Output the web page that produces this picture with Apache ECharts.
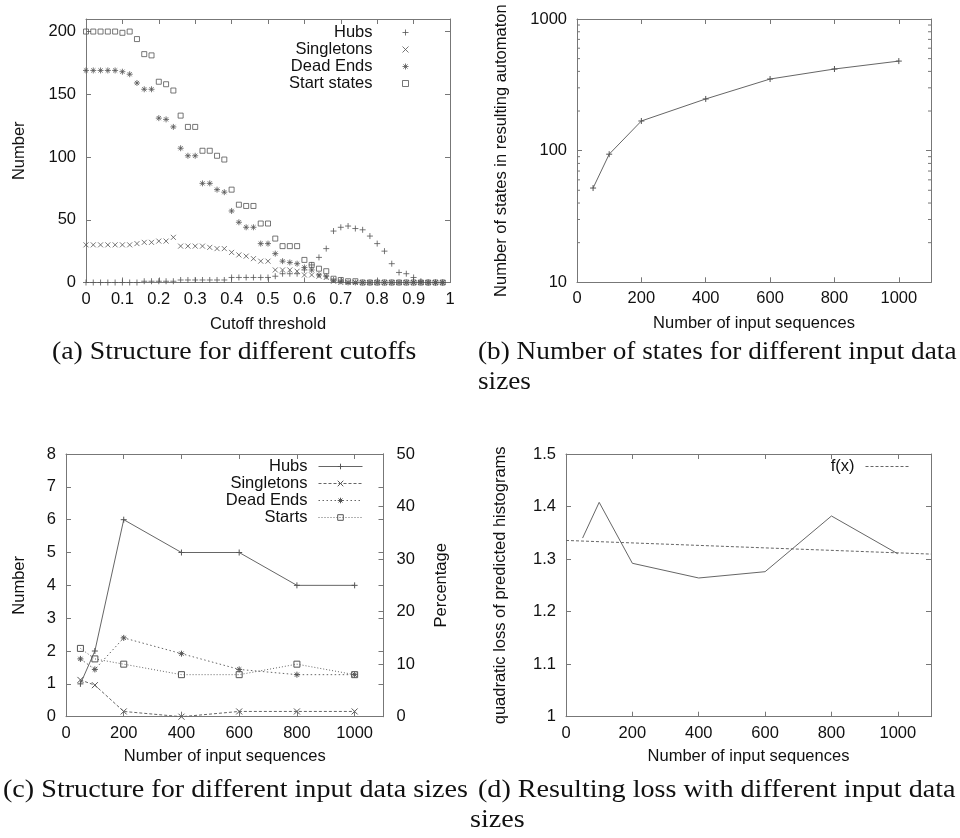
<!DOCTYPE html>
<html>
<head>
<meta charset="utf-8">
<script src="https://cdn.jsdelivr.net/npm/echarts@6/dist/echarts.min.js"></script>
<style>
html, body { margin: 0; padding: 0; background: #fff; }
#c { width: 960px; height: 838px; }
</style>
</head>
<body>
<div id="c"></div>
<script>
// (a) automaton structure against the cutoff threshold
const cutoff = [0, 0.02, 0.04, 0.06, 0.08, 0.1, 0.12, 0.14, 0.16, 0.18,
  0.2, 0.22, 0.24, 0.26, 0.28, 0.3, 0.32, 0.34, 0.36, 0.38,
  0.4, 0.42, 0.44, 0.46, 0.48, 0.5, 0.52, 0.54, 0.56, 0.58,
  0.6, 0.62, 0.64, 0.66, 0.68, 0.7, 0.72, 0.74, 0.76, 0.78,
  0.8, 0.82, 0.84, 0.86, 0.88, 0.9, 0.92, 0.94, 0.96, 0.98];
const hubsA = [0, 0, 0, 0, 0, 0, 0, 0, 1, 1, 1, 1, 1, 2, 2, 2, 2, 2, 2, 2,
  4, 4, 4, 4, 4, 4, 5, 7, 7, 7, 10, 14, 20, 27, 41, 44, 45, 43, 42, 37,
  31, 25, 15, 8, 7, 4, 1, 0, 0, 0];
const singletonsA = [30, 30, 30, 30, 30, 30, 30, 31, 32, 32, 33, 33, 36, 29, 29, 29, 29, 28, 27, 27,
  24, 22, 21, 19, 17, 17, 10, 10, 10, 9, 6, 6, 5, 4, 1, 0, 0, 0, 0, 0,
  0, 0, 0, 0, 0, 0, 0, 0, 0, 0];
const deadEndsA = [169, 169, 169, 169, 169, 168, 166, 159, 154, 154, 131, 130, 124, 107, 101, 101, 79, 79, 74, 72,
  57, 48, 44, 44, 31, 31, 23, 17, 16, 15, 12, 10, 6, 5, 2, 1, 0, 0, 0, 0,
  0, 0, 0, 0, 0, 0, 0, 0, 0, 0];
const startStatesA = [200, 200, 200, 200, 200, 199, 200, 194, 182, 181, 160, 158, 153, 133, 124, 124, 105, 105, 101, 98,
  74, 62, 61, 61, 47, 47, 35, 29, 29, 29, 18, 14, 11, 9, 3, 2, 1, 1, 0, 0,
  0, 0, 0, 0, 0, 0, 0, 0, 0, 0];

// (b) automaton size against the number of input sequences
const inputSizes = [50, 100, 200, 400, 600, 800, 1000];
const statesB = [52, 94, 168, 247, 350, 417, 479];
const logMinorTicks = [20, 30, 40, 50, 60, 70, 80, 90, 200, 300, 400, 500, 600, 700, 800, 900];

// (c) structure against the number of input sequences
const hubsC = [1, 2, 6, 5, 5, 4, 4];                 // count, left axis
const singletonsPctC = [7, 6, 1, 0, 1, 1, 1];        // percent, right axis
const deadEndsPctC = [11, 9, 15, 12, 9, 8, 8];
const startsPctC = [13, 11, 10, 8, 8, 10, 8];

// (d) loss against the number of input sequences, with a linear fit
const lossD = [1.340, 1.408, 1.292, 1.264, 1.276, 1.382, 1.310];
const fitX = [0, 1100];
const fitY = [1.3355, 1.3095];

const SANS = 'Liberation Sans';
const SERIF = 'Liberation Serif';
const INK = '#111';
const FRAME = '#777';
const MARK = '#555';
const LINE = '#666';
const FS = 16.5;

const PLUS = 'path://M5,0L5,10M0,5L10,5';
const CROSS = 'path://M0,0L10,10M10,0L0,10';
const STAR = 'path://M5,0L5,10M0,5L10,5M1.5,1.5L8.5,8.5M8.5,1.5L1.5,8.5';
const BOX = 'path://M0,0L10,0L10,10L0,10Z';

const textStyle = { color: INK, fontFamily: SANS, fontSize: FS };

function frameAxis(extra) {
  return Object.assign({
    splitLine: { show: false },
    axisLine: { show: true, onZero: false, lineStyle: { color: FRAME, width: 1 } },
    axisTick: { show: true, inside: true, length: 5, lineStyle: { color: FRAME, width: 1 } },
    axisLabel: { show: false },
    nameTextStyle: textStyle
  }, extra);
}

function labelled(margin, formatter) {
  const l = { show: true, margin: margin, color: INK, fontFamily: SANS, fontSize: FS };
  if (formatter) l.formatter = formatter;
  return l;
}

const upTo1000 = v => (v > 1000 ? '' : String(v));
const plainLog = v => String(Math.round(v));

const grid = [
  { left: 86, top: 19, width: 364, height: 263.5 },
  { left: 577, top: 19, width: 354, height: 263.3 },
  { left: 66, top: 454, width: 317.5, height: 262.7 },
  { left: 566, top: 454, width: 365, height: 262.7 }
];

const xAxis = [
  frameAxis({ type: 'value', gridIndex: 0, position: 'bottom', min: 0, max: 1, interval: 0.1,
    axisLabel: labelled(8), name: 'Cutoff threshold', nameLocation: 'middle', nameGap: 33 }),
  frameAxis({ type: 'value', gridIndex: 0, position: 'top', min: 0, max: 1, interval: 0.1 }),
  frameAxis({ type: 'value', gridIndex: 1, position: 'bottom', min: 0, max: 1100, interval: 200,
    axisLabel: labelled(8, upTo1000), name: 'Number of input sequences', nameLocation: 'middle', nameGap: 33 }),
  frameAxis({ type: 'value', gridIndex: 1, position: 'top', min: 0, max: 1100, interval: 200 }),
  frameAxis({ type: 'value', gridIndex: 2, position: 'bottom', min: 0, max: 1100, interval: 200,
    axisLabel: labelled(8, upTo1000), name: 'Number of input sequences', nameLocation: 'middle', nameGap: 31 }),
  frameAxis({ type: 'value', gridIndex: 2, position: 'top', min: 0, max: 1100, interval: 200 }),
  frameAxis({ type: 'value', gridIndex: 3, position: 'bottom', min: 0, max: 1100, interval: 200,
    axisLabel: labelled(8, upTo1000), name: 'Number of input sequences', nameLocation: 'middle', nameGap: 31 }),
  frameAxis({ type: 'value', gridIndex: 3, position: 'top', min: 0, max: 1100, interval: 200 })
];

const yAxis = [
  frameAxis({ type: 'value', gridIndex: 0, position: 'left', min: 0, max: 210, interval: 50,
    axisLabel: labelled(10, v => (v % 50 === 0 ? String(v) : '')),
    name: 'Number', nameLocation: 'middle', nameGap: 58 }),
  frameAxis({ type: 'value', gridIndex: 0, position: 'right', min: 0, max: 210, interval: 50 }),
  frameAxis({ type: 'log', logBase: 10, gridIndex: 1, position: 'left', min: 10, max: 1000,
    axisLabel: labelled(10, plainLog), name: 'Number of states in resulting automaton', nameLocation: 'middle', nameGap: 67 }),
  frameAxis({ type: 'log', logBase: 10, gridIndex: 1, position: 'right', min: 10, max: 1000 }),
  frameAxis({ type: 'value', gridIndex: 2, position: 'left', min: 0, max: 8, interval: 1,
    axisLabel: labelled(10), name: 'Number', nameLocation: 'middle', nameGap: 38 }),
  frameAxis({ type: 'value', gridIndex: 2, position: 'right', min: 0, max: 50, interval: 10,
    axisLabel: labelled(13), name: 'Percentage', nameLocation: 'middle', nameGap: 49 }),
  frameAxis({ type: 'value', gridIndex: 2, position: 'right', min: 0, max: 8, interval: 1 }),
  frameAxis({ type: 'value', gridIndex: 3, position: 'left', min: 1, max: 1.5, interval: 0.1,
    axisLabel: labelled(10), name: 'quadratic loss of predicted histograms', nameLocation: 'middle', nameGap: 57 }),
  frameAxis({ type: 'value', gridIndex: 3, position: 'right', min: 1, max: 1.5, interval: 0.1 })
];

const hollow = { color: 'none', borderColor: MARK, borderWidth: 1 };
const pair = (xs, ys) => xs.map((x, i) => [x, ys[i]]);

function scatterA(name, symbol, size, values) {
  return { type: 'scatter', name: name, xAxisIndex: 0, yAxisIndex: 0, symbol: symbol, symbolSize: size,
    itemStyle: hollow, data: pair(cutoff, values), animation: false, silent: true };
}

function lineC(name, symbol, yIdx, dash, values) {
  return { type: 'line', name: name, xAxisIndex: 4, yAxisIndex: yIdx, symbol: symbol, symbolSize: 6,
    showAllSymbol: true, itemStyle: hollow,
    lineStyle: { color: LINE, width: 1, type: dash },
    data: pair(inputSizes, values), animation: false, silent: true };
}

const series = [
  scatterA('Hubs', PLUS, 6, hubsA),
  scatterA('Singletons', CROSS, 5, singletonsA),
  scatterA('Dead Ends', STAR, 6, deadEndsA),
  scatterA('Start states', BOX, 5, startStatesA),

  { type: 'line', name: 'states', xAxisIndex: 2, yAxisIndex: 2, symbol: PLUS, symbolSize: 6, itemStyle: hollow,
    lineStyle: { color: LINE, width: 1 }, data: pair(inputSizes, statesB), animation: false, silent: true },
  { type: 'custom', xAxisIndex: 2, yAxisIndex: 2, silent: true, animation: false,
    data: logMinorTicks.map(v => [0, v]),
    renderItem: function (params, api) {
      const y = api.coord([0, api.value(1)])[1];
      const cs = params.coordSys;
      const st = { stroke: FRAME, lineWidth: 1 };
      return { type: 'group', children: [
        { type: 'line', shape: { x1: cs.x, y1: y, x2: cs.x + 3, y2: y }, style: st },
        { type: 'line', shape: { x1: cs.x + cs.width, y1: y, x2: cs.x + cs.width - 3, y2: y }, style: st }
      ] };
    } },

  lineC('hubsC', PLUS, 4, 'solid', hubsC),
  lineC('singletonsC', CROSS, 5, [3, 2], singletonsPctC),
  lineC('deadEndsC', STAR, 5, [1.5, 2.5], deadEndsPctC),
  lineC('startsC', BOX, 5, [1, 2], startsPctC),

  { type: 'line', name: 'loss', xAxisIndex: 6, yAxisIndex: 7, symbol: 'none',
    lineStyle: { color: LINE, width: 1 }, data: pair(inputSizes, lossD), animation: false, silent: true },
  { type: 'line', name: 'f(x)', xAxisIndex: 6, yAxisIndex: 7, symbol: 'none',
    lineStyle: { color: LINE, width: 1, type: [3, 2] }, data: pair(fitX, fitY), animation: false, silent: true }
];

const legendText = pad => ({ color: INK, fontFamily: SANS, fontSize: FS, lineHeight: 16.7, padding: [0, pad, 0, 0] });
const cLabels = { hubsC: 'Hubs', singletonsC: 'Singletons', deadEndsC: 'Dead Ends', startsC: 'Starts' };

const legend = [
  { orient: 'vertical', align: 'right', right: 549, top: 24, padding: 0, itemGap: 0,
    itemWidth: 6, itemHeight: 6, selectedMode: false,
    itemStyle: hollow, textStyle: legendText(25),
    data: ['Hubs', 'Singletons', 'Dead Ends', 'Start states'] },
  { orient: 'vertical', align: 'right', right: 597, top: 458, padding: 0, itemGap: 0,
    itemWidth: 44, itemHeight: 7, selectedMode: false, textStyle: legendText(6),
    itemStyle: hollow, lineStyle: { color: LINE, width: 1 },
    formatter: n => cLabels[n],
    data: ['hubsC', 'singletonsC', 'deadEndsC', 'startsC'] },
  { orient: 'vertical', align: 'right', right: 50, top: 458, padding: 0, itemGap: 0,
    itemWidth: 44, itemHeight: 7, selectedMode: false, textStyle: legendText(6),
    itemStyle: { opacity: 0 }, lineStyle: { color: LINE, width: 1 },
    data: ['f(x)'] }
];

function caption(text, x, y, sx) {
  return { type: 'text', x: x, y: y, scaleX: sx, silent: true,
    style: { text: text, fill: INK, font: '25px "' + SERIF + '"', verticalAlign: 'middle', lineHeight: 30 } };
}

const graphic = [
  caption('(a) Structure for different cutoffs', 52, 352, 1.11),
  caption('(b) Number of states for different input data\nsizes', 478, 367, 1.09),
  caption('(c) Structure for different input data sizes', 3, 790, 1.125),
  caption('(d) Resulting loss with different input data', 478, 790, 1.125),
  caption('sizes', 470, 820, 1.125)
];

const chart = echarts.init(document.getElementById('c'), null, { renderer: 'canvas' });
chart.setOption({
  backgroundColor: '#fff',
  animation: false,
  grid: grid,
  xAxis: xAxis,
  yAxis: yAxis,
  legend: legend,
  graphic: graphic,
  series: series
});
</script>
</body>
</html>
